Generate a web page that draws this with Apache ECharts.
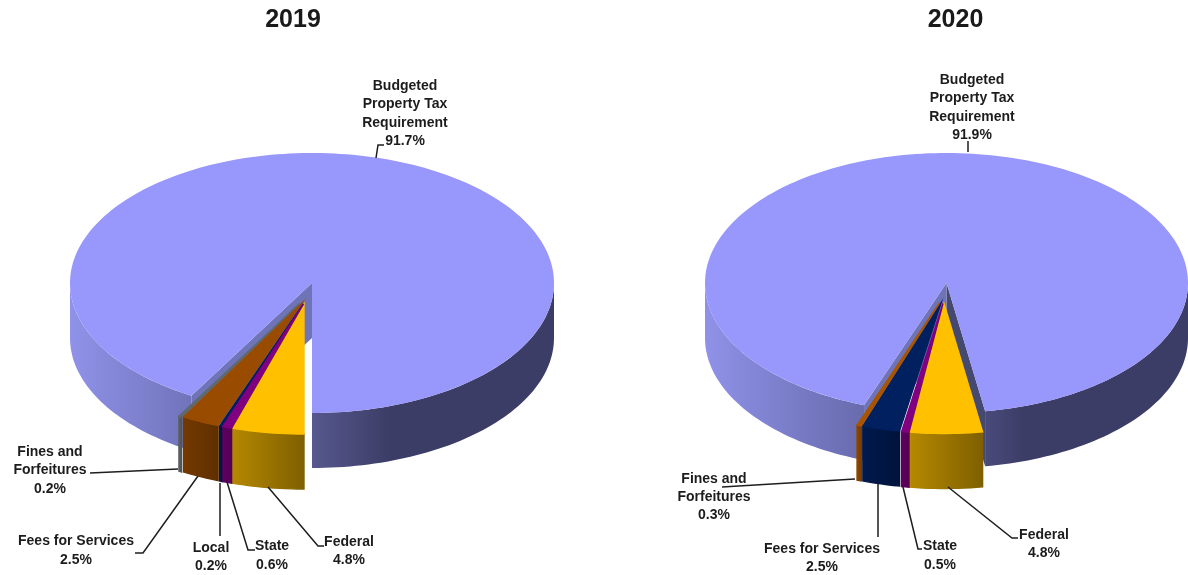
<!DOCTYPE html>
<html>
<head>
<meta charset="utf-8">
<style>html,body{margin:0;padding:0;background:#fff}#chart{width:1188px;height:575px}</style>
<script src="https://cdn.jsdelivr.net/npm/echarts@6/dist/echarts.min.js"></script>
</head>
<body>
<div id="chart"></div>
<script>
// Revenue shares by source, in percent
const categories2019 = ['Budgeted\nProperty Tax\nRequirement', 'Federal', 'State', 'Local', 'Fees for Services', 'Fines and\nForfeitures'];
const values2019 = [91.7, 4.8, 0.6, 0.2, 2.5, 0.2];
const categories2020 = ['Budgeted\nProperty Tax\nRequirement', 'Federal', 'State', 'Fees for Services', 'Fines and\nForfeitures'];
const values2020 = [91.9, 4.8, 0.5, 2.5, 0.3];
const years = ['2019', '2020'];

// Face colours: [top, side light, side dark]
const MAIN = { top: '#9797fc', wallL: '#6f74b8', wallR: '#45486f' };
const MAIN_SIDE = [[0, '#8f92e8'], [0.25, '#7174ba'], [0.5, '#56588f'], [0.66, '#3c3d66'], [1, '#3c3d66']];
const GOLD = ['#ffc000', '#b58800', '#7f6000'];
const PURPLE = ['#800080', '#5e005e', '#560056'];
const NAVY = ['#002060', '#001a4d', '#00133c'];
const BROWN = ['#994c00', '#733900', '#5f2f00'];
const GREY = ['#5e6a72', '#5a5f62', '#505558'];
const ORANGE = ['#a85400', '#8a4500', '#7a3d00'];

const layouts = [
  {
    categories: categories2019, values: values2019,
    cx: 312, cy: 283, rx: 242, ry: 130, depth: 55, start: 0,
    colors: [null, GOLD, PURPLE, NAVY, BROWN, GREY],
    shift: [null, [-8, 21], [-8.5, 21], [-9, 21], [-10.5, 20.5], [-12.5, 20.5]],
    order: [0, 1, 4, 3, 5, 4],
    labels: [[405, 113.5], [349, 551], [272, 555.5], [211, 557], [76, 550.5], [50, 470.5]],
    leaders: [
      [[376, 158], [378, 145], [384, 145]],
      [[268, 487], [318, 546], [324, 546]],
      [[227, 482], [248, 550], [255, 550]],
      [[220, 483], [220, 536]],
      [[198, 476], [143, 553], [135, 553]],
      [[178, 469], [90, 473]]
    ]
  },
  {
    categories: categories2020, values: values2020,
    cx: 946.5, cy: 283, rx: 241.5, ry: 130, depth: 55, start: 9.2,
    colors: [null, GOLD, PURPLE, NAVY, ORANGE],
    shift: [null, [-2.5, 20.5], [-3.5, 20.5], [-5.5, 20], [-7, 20]],
    order: [0, 1, 4, 2, 3],
    labels: [[972, 107.5], [1044, 544], [940, 555.5], [822, 558], [714, 497]],
    leaders: [
      [[968, 152], [968, 141]],
      [[948, 487], [1012, 538], [1018, 538]],
      [[903, 487], [918, 549], [922, 549]],
      [[878, 484], [878, 537]],
      [[855, 479], [722, 487]]
    ]
  }
];

const rad = d => d * Math.PI / 180;
const LEADER_Z = 20;

// Rim point at angle t (degrees from straight down, growing towards the right)
function rimPoint(L, t, ox, oy, h) {
  return [L.cx + ox + L.rx * Math.sin(rad(t)), L.cy + oy + h + L.ry * Math.cos(rad(t))];
}

function arcPoints(L, a, b, ox, oy, h) {
  const n = Math.max(2, Math.ceil(Math.abs(b - a) / 1.5));
  const pts = [];
  for (let i = 0; i <= n; i++) pts.push(rimPoint(L, a + (b - a) * i / n, ox, oy, h));
  return pts;
}

function sideFace(L, a, b, ox, oy, fill, stroke, z2) {
  return {
    type: 'polygon',
    z2: z2,
    shape: { points: arcPoints(L, a, b, ox, oy, 0).concat(arcPoints(L, b, a, ox, oy, L.depth)) },
    style: { fill: fill, stroke: stroke ? fill : null, lineWidth: stroke ? 1.4 : 0 }
  };
}

function gradient(x1, x2, stops) {
  return {
    type: 'linear', global: true, x: x1, y: 0, x2: x2, y2: 0,
    colorStops: stops.map(s => ({ offset: s[0], color: s[1] }))
  };
}

function leaderAndLabel(L, i, v) {
  return [
    {
      type: 'polyline',
      z2: LEADER_Z,
      shape: { points: L.leaders[i] },
      style: { stroke: '#1e1e1e', lineWidth: 1.5, fill: null }
    },
    {
      type: 'text',
      z2: LEADER_Z,
      x: L.labels[i][0], y: L.labels[i][1],
      style: {
        text: L.categories[i] + '\n' + v.toFixed(1) + '%',
        font: 'bold 14px "Liberation Sans", Arial, sans-serif',
        lineHeight: 18.3, fill: '#1c1c1c', align: 'center', verticalAlign: 'middle'
      }
    }
  ];
}

function makeRenderer(L) {
  return function (params, api) {
    const i = params.dataIndex;
    const v = api.value(0);
    const children = [];
    if (i === 0) {
      // The large slice runs from the start angle all the way round over the back
      const a = L.start, b = L.start + v * 3.6;
      const wall = t => {
        const r0 = rimPoint(L, t, 0, 0, 0), r1 = rimPoint(L, t, 0, 0, L.depth);
        return [[L.cx, L.cy], r0, r1, [L.cx, L.cy + L.depth]];
      };
      const sideFill = gradient(L.cx - L.rx, L.cx + L.rx, MAIN_SIDE);
      children.push(sideFace(L, a, 90, 0, 0, sideFill, false, 0));
      children.push(sideFace(L, 270, b, 0, 0, sideFill, false, 0));
      children.push({ type: 'polygon', shape: { points: wall(a) }, style: { fill: MAIN.wallR } });
      children.push({ type: 'polygon', shape: { points: wall(b) }, style: { fill: MAIN.wallL } });
      children.push({
        type: 'polygon',
        z2: 1,
        shape: { points: [[L.cx, L.cy]].concat(arcPoints(L, a, b, 0, 0, 0)) },
        style: { fill: MAIN.top }
      });
    } else {
      // Pulled-out slices stack clockwise from the start angle; the thin ones sit on top
      const before = L.values.slice(1, i).reduce((s, x) => s + x, 0);
      const a = L.start - before * 3.6, b = a - v * 3.6;
      const [ox, oy] = L.shift[i];
      const c = L.colors[i];
      const z = 2 + L.order[i] * 2;
      const x0 = rimPoint(L, b, ox, oy, 0)[0], x1 = rimPoint(L, a, ox, oy, 0)[0];
      children.push(sideFace(L, a, b, ox, oy, gradient(x0, x1, [[0, c[1]], [1, c[2]]]), true, z));
      children.push({
        type: 'polygon',
        z2: z + 1,
        shape: { points: [[L.cx + ox, L.cy + oy]].concat(arcPoints(L, a, b, ox, oy, 0)) },
        style: { fill: c[0], stroke: c[0], lineWidth: 1.4 }
      });
    }
    return { type: 'group', children: children.concat(leaderAndLabel(L, i, v)) };
  };
}

const titleFont = { fontFamily: '"Liberation Sans", Arial, sans-serif', fontWeight: 'bold', fontSize: 25, color: '#1a1a1a' };
const chart = echarts.init(document.getElementById('chart'), null, { renderer: 'canvas' });
chart.setOption({
  animation: false,
  backgroundColor: '#ffffff',
  title: [
    { text: years[0], left: 288, top: 15, textAlign: 'center', textVerticalAlign: 'middle', textStyle: titleFont },
    { text: years[1], left: 950.5, top: 15, textAlign: 'center', textVerticalAlign: 'middle', textStyle: titleFont }
  ],
  series: layouts.map((L, k) => ({
    type: 'custom',
    name: years[k],
    coordinateSystem: 'none',
    silent: true,
    clip: false,
    renderItem: makeRenderer(L),
    data: L.values.map(v => [v])
  }))
});
</script>
</body>
</html>
